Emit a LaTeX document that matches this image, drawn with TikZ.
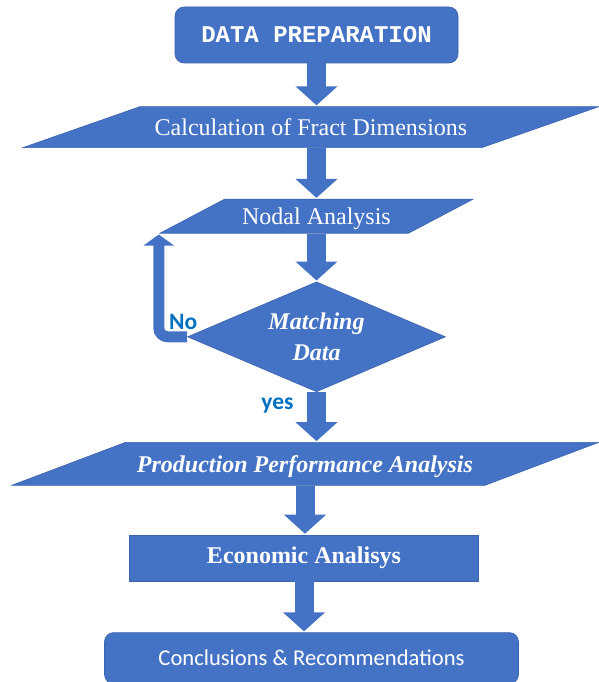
\documentclass[tikz,border=0pt]{standalone}
\usepackage{fontspec}
\setmainfont{Liberation Serif}
\newfontfamily\calibrifont{Carlito}
\newfontfamily\courierfont{Liberation Mono}
\usepackage{xcolor}
\usetikzlibrary{shapes.geometric}
\usetikzlibrary{arrows.meta}
\usetikzlibrary{positioning}

\definecolor{boxblue}{HTML}{4472C4}
\definecolor{edgeblue}{HTML}{3A64AE}
\definecolor{labelblue}{HTML}{0070C0}

\tikzset{
  block/.style={draw=edgeblue, line width=0.6pt, fill=boxblue, text=white, inner sep=0pt},
  para/.style={block, trapezium, trapezium stretches body},
  flow/.style={boxblue, line width=19pt, -{Triangle[width=41pt,length=19pt]}, shorten >=1pt},
  answer/.style={text=labelblue, font=\calibrifont\bfseries\fontsize{23.5}{26}\selectfont}
}

\begin{document}
\begin{tikzpicture}[font=\fontsize{24}{28}\selectfont]
\useasboundingbox (0pt,0pt) rectangle (599pt,-682pt);

\node [block,rounded corners=9pt,minimum width=283pt,minimum height=56pt,font=\courierfont\bfseries\fontsize{24}{28}\selectfont] (prep) at (316.5pt,-35pt) {DATA PREPARATION};
\node [para,trapezium left angle=19.3,trapezium right angle=160.7,text height=29pt,text depth=12pt,minimum width=576pt,below=43pt of prep,xshift=-5.5pt] (calc) {Calculation of Fract Dimensions};
\node [para,trapezium left angle=27.8,trapezium right angle=152.2,text height=25pt,text depth=9pt,minimum width=313pt,below=51pt of calc,xshift=5.5pt] (nodal) {Nodal Analysis};
\node [block,diamond,aspect=2.35,minimum width=258pt,minimum height=110pt,align=center,font=\bfseries\itshape\fontsize{24}{31}\selectfont,below=48pt of nodal] (match) {Matching\\Data};
\node [para,trapezium left angle=20.7,trapezium right angle=159.3,text height=30pt,text depth=13pt,minimum width=587pt,font=\bfseries\itshape\fontsize{24}{28}\selectfont,below=50pt of match,xshift=-11.5pt] (prod) {Production Performance Analysis};
\node [block,minimum width=349pt,minimum height=46pt,font=\bfseries\fontsize{24}{28}\selectfont,below=49pt of prod,xshift=-1pt] (econ) {Economic Analisys};
\node [block,rounded corners=9pt,minimum width=414pt,minimum height=51pt,font=\calibrifont\fontsize{22.6}{26}\selectfont,below=51pt of econ,xshift=7.5pt] (concl) {Conclusions \& Recommendations};

\draw [flow] (prep.south) -- (prep.south |- calc.north);
\draw [flow] (nodal.north |- calc.south) -- (nodal.north);
\draw [flow] (nodal.south) -- (nodal.south |- match.north);
\draw [flow] (match.south) -- (match.south |- prod.north);
\draw [flow] (prod.south) -- (prod.south |- econ.north);
\draw [flow] (econ.south) -- (econ.south |- concl.north);

% loop back when the data do not match
\draw [boxblue,line width=11pt,rounded corners=9pt,-{Triangle[width=30pt,length=11pt]}] (match.west) -| ([yshift=-1pt]nodal.bottom left corner);

\node [answer] (no) at ([xshift=-4pt,yshift=15pt]match.west) {No};
\node [answer] (yes) at ([xshift=-39pt,yshift=-13pt]match.south) {yes};
\end{tikzpicture}
\end{document}
